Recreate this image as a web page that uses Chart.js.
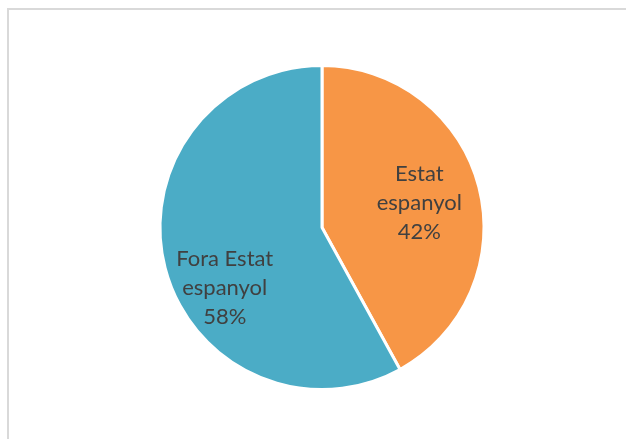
<!DOCTYPE html>
<html>
<head>
<meta charset="utf-8">
<script src="https://cdn.jsdelivr.net/npm/chart.js@4"></script>
<style>
  html, body { margin: 0; padding: 0; background: #fff; overflow: hidden; }
  #frame { position: absolute; left: 7px; top: 8px; width: 700px; height: 500px; border: 2px solid #d9d9d9; }
  #wrap { position: absolute; left: 0; top: 0; width: 626px; height: 439px; }
</style>
</head>
<body>
<div id="frame"></div>
<div id="wrap"><canvas id="piechart"></canvas></div>
<script>
const labels = [['Estat', 'espanyol'], ['Fora Estat', 'espanyol']];
const values = [42, 58];
const colors = ['#F79646', '#4BACC6'];
// label placement: fraction of radius along the slice middle, plus a small nudge (px)
const labelRadius = [0.62, 0.62];
const labelNudge = [[0, 0], [0, 35]];

const sliceLabels = {
    id: 'sliceLabels',
    afterDatasetsDraw(chart) {
        const ctx = chart.ctx;
        const meta = chart.getDatasetMeta(0);
        const total = values.reduce((a, b) => a + b, 0);
        ctx.save();
        ctx.font = '22px Lato';
        ctx.fillStyle = '#404040';
        ctx.textAlign = 'center';
        ctx.textBaseline = 'middle';
        meta.data.forEach((arc, i) => {
            const p = arc.getProps(['x', 'y', 'startAngle', 'endAngle', 'outerRadius'], true);
            const mid = (p.startAngle + p.endAngle) / 2;
            const r = p.outerRadius * labelRadius[i];
            const cx = p.x + Math.cos(mid) * r + labelNudge[i][0];
            const cy = p.y + Math.sin(mid) * r + labelNudge[i][1];
            const lines = labels[i].concat([Math.round(values[i] * 100 / total) + '%']);
            const lh = 29;
            lines.forEach((t, k) => {
                ctx.fillText(t, cx, cy + (k - (lines.length - 1) / 2) * lh);
            });
        });
        ctx.restore();
    }
};

const ctx = document.getElementById('piechart').getContext('2d');
const config = {
    type: 'pie',
    data: {
        labels: labels,
        datasets: [{
            data: values,
            backgroundColor: colors,
            borderColor: '#ffffff',
            borderWidth: 3,
            hoverOffset: 0
        }]
    },
    options: {
        responsive: true,
        maintainAspectRatio: false,
        animation: false,
        events: [],
        layout: { padding: { top: 64, bottom: 48, left: 18, right: 0 } },
        plugins: {
            legend: { display: false },
            tooltip: { enabled: false }
        }
    },
    plugins: [sliceLabels]
};
const myChart = new Chart(ctx, config);
</script>
</body>
</html>
